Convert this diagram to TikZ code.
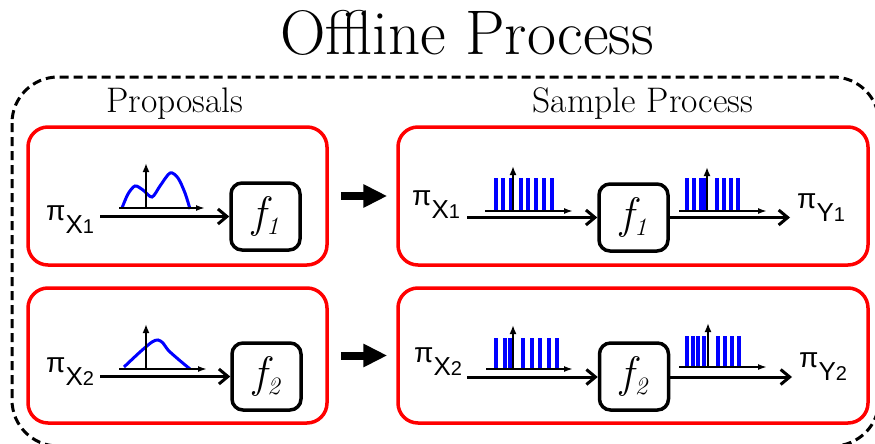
\documentclass[tikz,border=0pt]{standalone}
\usepackage{fontspec}
\usetikzlibrary{arrows.meta}

\newfontfamily\labfont{Liberation Sans}
\newcommand*{\pilab}[2]{{\labfont\fontsize{28}{28}\selectfont π}\raisebox{-13pt}{\labfont\fontsize{26}{26}\selectfont #1\fontsize{20}{20}\selectfont #2}}
\newcommand*{\ffun}[1]{{\itshape\fontsize{44}{44}\selectfont f\hspace{1pt}\raisebox{-7pt}{\fontsize{25}{25}\selectfont #1}}}

\begin{document}
\begin{tikzpicture}
[
	x=1pt,
	y=-1pt,
	frame/.style={line width=3pt,dash pattern=on 9pt off 5pt,rounded corners=46pt},
	redbox/.style={draw=red,line width=3.5pt,rounded corners=20pt,inner sep=0pt},
	fbox/.style={draw,line width=3.5pt,rounded corners=11pt,minimum width=69pt,minimum height=67pt,inner sep=0pt},
	pinode/.style={anchor=base west,inner sep=0pt},
	flow/.style={line width=3pt,-{Straight Barb[length=9pt,width=15pt,line width=3pt]}},
	axis/.style={line width=1.7pt,-{Latex[length=9pt,width=6pt]}},
	vaxis/.style={line width=2.6pt,-{Latex[length=9pt,width=7pt]}},
	curve/.style={blue,line width=3pt,smooth},
	bar/.style={blue,line width=3.2pt},
	bigarrow/.style={line width=8pt,-{Triangle[length=24pt,width=22pt]}}
]

	\useasboundingbox (0,0) rectangle (875,444);

	\draw[frame] (12,77) rectangle (879,446);

	\node[anchor=base,inner sep=0pt,font=\fontsize{63}{63}\selectfont] (title) at (467,55) {Offline Process};
	\node[anchor=base,inner sep=0pt,font=\fontsize{35.5}{36}\selectfont] (proposals) at (175,112) {Proposals};
	\node[anchor=base,inner sep=0pt,font=\fontsize{35.5}{36}\selectfont] (sampling) at (643,112) {Sample Process};

	% red boxes
	\node[redbox,minimum width=299pt,minimum height=138pt] (propone) at (177.5,196) {};
	\node[redbox,minimum width=470pt,minimum height=138pt] (sampone) at (633,196) {};
	\node[redbox,minimum width=299pt,minimum height=135pt] (proptwo) at (177.5,355.5) {};
	\node[redbox,minimum width=470pt,minimum height=135pt] (samptwo) at (633,355.5) {};

	\draw[bigarrow,shorten <=12pt,shorten >=9pt] (propone.east) -- (sampone.west);
	\draw[bigarrow,shorten <=12pt,shorten >=9pt] (proptwo.east) -- (samptwo.west);

	% proposal 1
	\node[pinode] (xone) at (46,220) {\pilab{X}{1}};
	\node[fbox] (fone) at (265.5,216.5) {\ffun{1}};
	\coordinate (inone) at (100,216.5);
	\draw[flow] (inone) -- (fone.west);
	\draw[curve] plot coordinates {(122,208) (128,194) (135,186) (143,190) (152,197) (160,186) (170,173) (178,178) (185,193) (190,209)};
	\draw[axis] (119,208) -- (205,208);
	\draw[vaxis] (146,208) -- (146,163);

	% proposal 2
	\node[pinode] (xtwo) at (46,372) {\pilab{X}{2}};
	\node[fbox] (ftwo) at (266.5,376.5) {\ffun{2}};
	\coordinate (intwo) at (100,376.5);
	\draw[flow] (intwo) -- (ftwo.west);
	\draw[curve] plot coordinates {(124,367) (140,352) (152,342) (158,340) (163,343) (168,350) (178,359) (190,369)};
	\draw[axis] (119,369) -- (207,369);
	\draw[vaxis] (146,369) -- (146,324);

	% sample process 1
	\node[pinode] (sxone) at (412,205) {\pilab{X}{1}};
	\node[pinode] (syone) at (797,208) {\pilab{Y}{1}};
	\node[fbox] (sfone) at (633.5,217.5) {\ffun{1}};
	\coordinate (sinone) at (467,217.5);
	\coordinate (soutone) at (790,217.5);
	\draw[flow] (sinone) -- (sfone.west);
	\draw[flow] (sfone.east) -- (soutone);
	\foreach \bx in {496,503,511,521,528,536,544,552}
		\draw[bar] (\bx,210) -- (\bx,178);
	\draw[axis] (485,211) -- (573,211);
	\draw[vaxis] (513,211) -- (513,166);
	\foreach \bx in {687,694,701,705,717,724,731,738}
		\draw[bar] (\bx,210) -- (\bx,178);
	\draw[axis] (679,211) -- (767,211);
	\draw[vaxis] (707,211) -- (707,167);

	% sample process 2
	\node[pinode] (sxtwo) at (414,362) {\pilab{X}{2}};
	\node[pinode] (sytwo) at (799,367) {\pilab{Y}{2}};
	\node[fbox] (sftwo) at (634,376.5) {\ffun{2}};
	\coordinate (sintwo) at (467,377);
	\coordinate (souttwo) at (792,377);
	\draw[flow] (sintwo) -- (sftwo.west |- sintwo);
	\draw[flow] (sftwo.east |- souttwo) -- (souttwo);
	\foreach \bx in {496,505,510,523,532,540,549,557}
		\draw[bar] (\bx,368) -- (\bx,338);
	\draw[axis] (486,369) -- (573,369);
	\draw[vaxis] (513,369) -- (513,325);
	\foreach \bx in {687,693,698,704,718,725,732,739}
		\draw[bar] (\bx,366) -- (\bx,336);
	\draw[axis] (679,367) -- (767,367);
	\draw[vaxis] (708,367) -- (708,323);

\end{tikzpicture}
\end{document}
